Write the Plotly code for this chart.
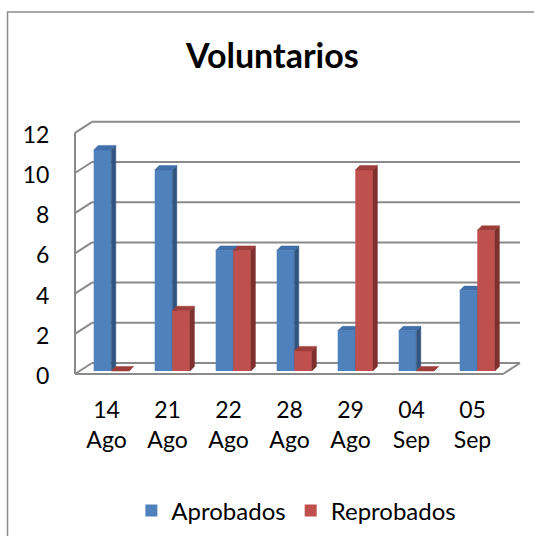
import plotly.graph_objects as go

# ---- datos ----
fechas = ["14<br>Ago", "21<br>Ago", "22<br>Ago", "28<br>Ago", "29<br>Ago", "04<br>Sep", "05<br>Sep"]
aprobados = [11, 10, 6, 6, 2, 2, 4]
reprobados = [0, 3, 6, 1, 10, 0, 7]
y_ticks = [0, 2, 4, 6, 8, 10, 12]

COLOURS = {
    "azul":        "#4F81BD",
    "azul_lado":   "#32557F",
    "azul_techo":  "#416FA9",
    "rojo":        "#C0504D",
    "rojo_lado":   "#7E302E",
    "rojo_techo":  "#9E3D3A",
    "grid":        "#8A8A8A",
    "borde":       "#8C8C8C",
    "texto":       "#000000",
}

# ---- geometría (pixeles -> unidades de datos) ----
W, H = 534, 536
L, R, T, B = 70, 524, 120, 378      # área de trazado en px
PX_X, X0_PX = 61.0, 106.5           # px por categoría, px de la primera
PX_Y, Y0_PX = 20.1, 371             # px por unidad, px del valor 0

x_range = [(L - X0_PX) / PX_X, (R - X0_PX) / PX_X]
y_range = [(Y0_PX - B) / PX_Y, (Y0_PX - T) / PX_Y]

BW = 17.6 / PX_X                    # ancho de la cara frontal
OFF_A = -12.8 / PX_X
OFF_R = OFF_A + BW
BDX, BDY = 4.5 / PX_X, 4.5 / PX_Y   # profundidad de cada barra

WX_L, WX_R = (75 - X0_PX) / PX_X, (503 - X0_PX) / PX_X   # pared frontal
DX, DY = 17 / PX_X, 11 / PX_Y                              # profundidad de paredes
FY = -3 / PX_Y                                             # plano frontal del 0


def caras(valores, offset):
    lx, ly, tx, ty = [], [], [], []
    for i, v in enumerate(valores):
        xl = i + offset
        xr = xl + BW
        lx += [xr, xr + BDX, xr + BDX, xr, xr, None]
        ly += [0, BDY, v + BDY, v, 0, None]
        tx += [xl, xl + BDX, xr + BDX, xr, xl, None]
        ty += [v, v + BDY, v + BDY, v, v, None]
    return lx, ly, tx, ty


fig = go.Figure()
cats = list(range(len(fechas)))

series = [
    ("Aprobados", aprobados, OFF_A, "azul", "x", "y"),
    ("Reprobados", reprobados, OFF_R, "rojo", "x2", "y2"),
]
for nombre, vals, off, col, xa, ya in series:
    fig.add_trace(go.Bar(
        x=cats, y=vals, width=BW, offset=off, name=nombre,
        marker=dict(color=COLOURS[col], line=dict(width=0)),
        xaxis=xa, yaxis=ya,
    ))
    lx, ly, tx, ty = caras(vals, off)
    fig.add_trace(go.Scatter(
        x=lx, y=ly, mode="lines", fill="toself", fillcolor=COLOURS[col + "_lado"],
        line=dict(width=0.5, color=COLOURS[col + "_lado"]), showlegend=False,
        hoverinfo="skip", xaxis=xa, yaxis=ya,
    ))
    fig.add_trace(go.Scatter(
        x=tx, y=ty, mode="lines", fill="toself", fillcolor=COLOURS[col + "_techo"],
        line=dict(width=0.5, color=COLOURS[col + "_techo"]), showlegend=False,
        hoverinfo="skip", xaxis=xa, yaxis=ya,
    ))

# ---- paredes y rejilla 3D ----
shapes = []
gl = dict(color=COLOURS["grid"], width=2)
for v in y_ticks:
    shapes.append(dict(type="line", xref="x", yref="y", layer="below",
                       x0=WX_L + DX, x1=WX_R + DX, y0=v + FY + DY, y1=v + FY + DY, line=gl))
    shapes.append(dict(type="line", xref="x", yref="y", layer="below",
                       x0=WX_L, x1=WX_L + DX, y0=v + FY, y1=v + FY + DY, line=gl))
shapes.append(dict(type="line", xref="x", yref="y", layer="below",
                   x0=WX_L, x1=WX_L, y0=FY, y1=12 + FY, line=gl))
shapes.append(dict(type="line", xref="x", yref="y", layer="below",
                   x0=WX_L, x1=WX_R, y0=FY, y1=FY, line=gl))
shapes.append(dict(type="line", xref="x", yref="y", layer="below",
                   x0=WX_R, x1=WX_R + DX, y0=FY, y1=FY + DY, line=gl))
# borde exterior del gráfico
shapes.append(dict(type="rect", xref="paper", yref="paper",
                   x0=(7.5 - L) / (R - L), x1=(545 - L) / (R - L),
                   y0=(B - 545) / (B - T), y1=(B - 12) / (B - T),
                   line=dict(color=COLOURS["borde"], width=1.5)))

fig.update_layout(
    width=W, height=H, autosize=False,
    margin=dict(l=L, r=W - R, t=T, b=H - B, pad=0),
    paper_bgcolor="white", plot_bgcolor="rgba(0,0,0,0)",
    font=dict(family="Lato, sans-serif", size=23, color=COLOURS["texto"]),
    title=dict(text="<b>Voluntarios</b>", font=dict(size=34, color="black"),
               xref="container", yref="container", x=0.51, xanchor="center",
               y=1 - 56 / H, yanchor="middle"),
    barmode="overlay",
    shapes=shapes,
    showlegend=True,
    legend=dict(orientation="h", xref="container", yref="container",
                x=0.555, xanchor="center", y=1 - 511 / H, yanchor="middle",
                font=dict(size=24), itemwidth=30, traceorder="normal"),
    xaxis=dict(range=x_range, tickmode="array", tickvals=cats, ticktext=fechas,
               showgrid=False, zeroline=False, showline=False, ticks="",
               ticklabelstandoff=16, fixedrange=True),
    yaxis=dict(range=y_range, tickmode="array", tickvals=y_ticks,
               ticktext=[str(v) for v in y_ticks],
               showgrid=False, zeroline=False, showline=False,
               ticks="outside", ticklen=15, tickcolor="rgba(0,0,0,0)",
               ticklabelshift=5, fixedrange=True),
    xaxis2=dict(range=x_range, overlaying="x", visible=False, fixedrange=True),
    yaxis2=dict(range=y_range, overlaying="y", visible=False, fixedrange=True),
)

fig.write_html("out.html", config={"displayModeBar": False},
               post_script="document.body.style.margin='0';")
